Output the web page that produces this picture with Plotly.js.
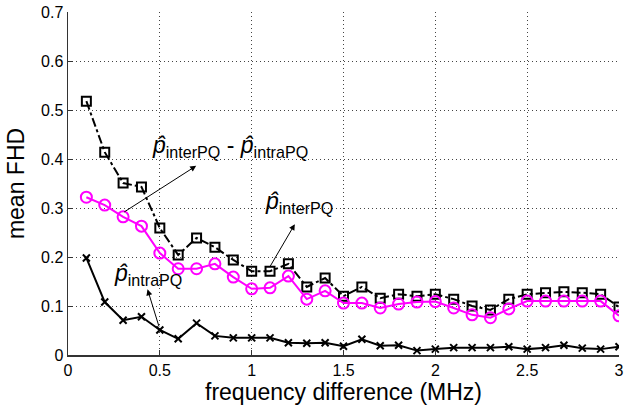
<!DOCTYPE html>
<html><head><meta charset="utf-8">
<script src="https://cdn.plot.ly/plotly-3.0.1.min.js"></script>
<style>html,body{margin:0;padding:0;background:#fff}#chart{width:624px;height:410px}</style>
</head><body><div id="chart"></div>
<script>
const freq = [0.1,0.2,0.3,0.4,0.5,0.6,0.7,0.8,0.9,1.0,1.1,1.2,1.3,1.4,1.5,1.6,1.7,1.8,1.9,2.0,2.1,2.2,2.3,2.4,2.5,2.6,2.7,2.8,2.9,3.0];
const diffPQ = [0.518,0.414,0.351,0.343,0.259,0.204,0.239,0.220,0.194,0.171,0.171,0.186,0.139,0.157,0.120,0.139,0.116,0.124,0.120,0.124,0.114,0.100,0.092,0.114,0.124,0.127,0.129,0.127,0.124,0.098];
const interPQ = [0.322,0.306,0.282,0.263,0.208,0.176,0.176,0.186,0.159,0.135,0.137,0.161,0.114,0.131,0.106,0.106,0.096,0.104,0.108,0.109,0.096,0.082,0.076,0.094,0.110,0.110,0.110,0.110,0.110,0.080];
const intraPQ = [0.198,0.108,0.071,0.078,0.051,0.033,0.065,0.039,0.035,0.035,0.035,0.025,0.024,0.025,0.018,0.032,0.019,0.020,0.009,0.012,0.015,0.015,0.015,0.017,0.012,0.015,0.020,0.014,0.012,0.017];
const xTicks = [0,0.5,1,1.5,2,2.5,3];
const yTicks = [0,0.1,0.2,0.3,0.4,0.5,0.6,0.7];

const traces = [
  {x: freq, y: diffPQ, mode:'lines+markers', line:{color:'#000', width:2, dash:'dashdot'},
   marker:{symbol:'square-open', size:9, color:'#000', line:{width:2}}},
  {x: freq, y: interPQ, mode:'lines+markers', line:{color:'#ff00ff', width:2},
   marker:{symbol:'circle-open', size:11, color:'#ff00ff', line:{width:2}}},
  {x: freq, y: intraPQ, mode:'lines+markers', line:{color:'#000', width:2},
   marker:{symbol:'x-thin-open', size:7, color:'#000', line:{width:2}}}
];

const fnt = {family:'Liberation Sans, Arial, sans-serif', color:'#000'};
function arrow(hx,hy,tx,ty){
  return {x:hx, y:hy, ax:tx, ay:ty, xref:'x', yref:'y', axref:'x', ayref:'y',
    text:'', showarrow:true, arrowhead:2, arrowsize:1.2, arrowwidth:1, arrowcolor:'#000', standoff:0, startstandoff:0};
}
function label(x,y,t){
  return {x:x, y:y, xref:'x', yref:'y', text:t, showarrow:false, font:Object.assign({size:23}, fnt)};
}
const axisCommon = {showgrid:true, gridcolor:'#444', griddash:'1px,3px', gridwidth:1,
  zeroline:false, showline:true, linecolor:'#333', linewidth:1.5, ticks:'inside', ticklen:5, tickcolor:'#333',
  tickfont:{size:16}, ticklabeloverflow:'allow'};
const layout = {
  width:624, height:410, margin:{l:68, r:5, t:12, b:55},
  paper_bgcolor:'#fff', plot_bgcolor:'#fff', showlegend:false,
  font: fnt,
  xaxis:Object.assign({}, axisCommon, {range:[0,3], tickvals:xTicks, ticktext:xTicks.map(String),
    title:{text:'frequency difference (MHz)', font:{size:23}, standoff:6}}),
  yaxis:Object.assign({}, axisCommon, {range:[0,0.7], tickvals:yTicks, ticktext:yTicks.map(String),
    title:{text:'mean FHD', font:{size:23}, standoff:10}}),
  annotations:[
    arrow(0.698,0.386,0.298,0.290),
    arrow(1.235,0.267,1.096,0.178),
    arrow(0.433,0.134,0.498,0.055),
    label(0.88,0.425,'<i>p̂</i><sub>interPQ</sub> - <i>p̂</i><sub>intraPQ</sub>'),
    label(1.26,0.312,'<i>p̂</i><sub>interPQ</sub>'),
    label(0.433,0.165,'<i>p̂</i><sub>intraPQ</sub>')
  ]
};
Plotly.newPlot('chart', traces, layout, {displayModeBar:false, staticPlot:true});
</script></body></html>
